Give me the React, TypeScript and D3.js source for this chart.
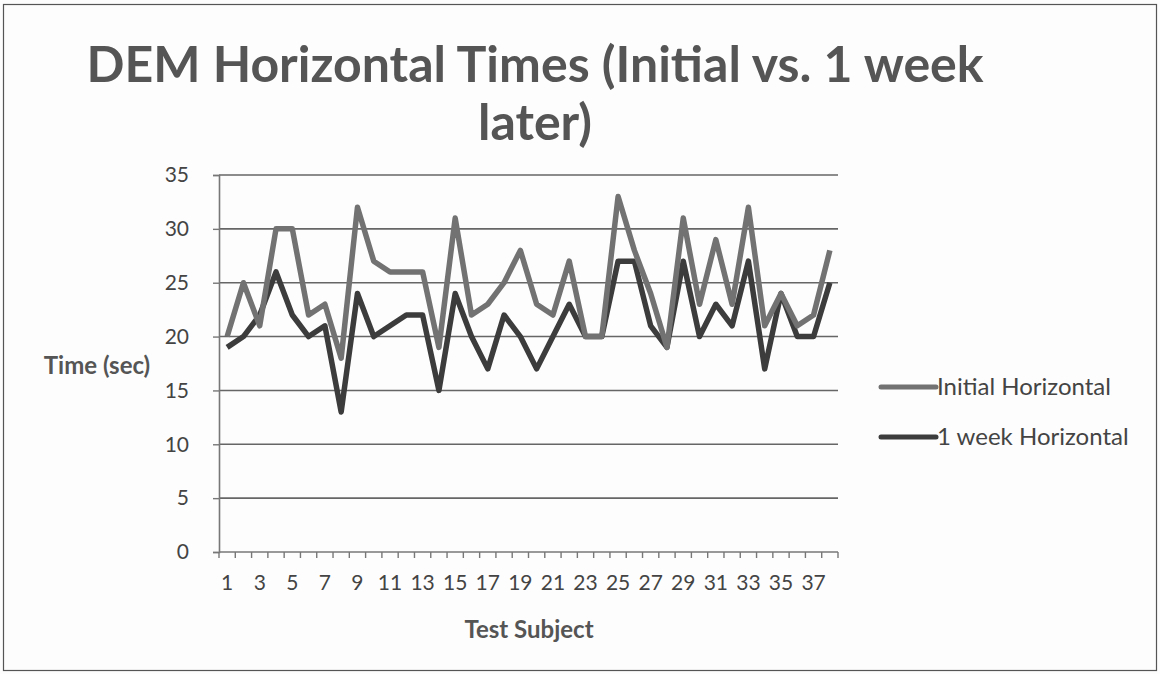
import React, { useEffect, useRef } from 'react';
import * as d3 from 'd3';

// test subjects 1..38
const subjects = d3.range(1, 39);
const initialHorizontal = [20, 25, 21, 30, 30, 22, 23, 18, 32, 27, 26, 26, 26, 19, 31, 22, 23, 25, 28, 23, 22, 27, 20, 20, 33, 28, 24, 19, 31, 23, 29, 23, 32, 21, 24, 21, 22, 28];
const weekHorizontal = [19, 20, 22, 26, 22, 20, 21, 13, 24, 20, 21, 22, 22, 15, 24, 20, 17, 22, 20, 17, 20, 23, 20, 20, 27, 27, 21, 19, 27, 20, 23, 21, 27, 17, 24, 20, 20, 25];
const yTicks = [0, 5, 10, 15, 20, 25, 30, 35];
const seriesNames = ['Initial Horizontal', '1 week Horizontal'];

const FONT = 'Lato, "Open Sans", sans-serif';

export default function App() {
  const ref = useRef<SVGSVGElement>(null);

  useEffect(() => {
    const svg = d3.select(ref.current);
    svg.selectAll('*').remove();

    const width = 1160;
    const height = 674;
    const margin = { top: 175, left: 219, right: 322, bottom: 122 };
    const graphWidth = width - margin.left - margin.right;
    const graphHeight = height - margin.top - margin.bottom;

    // frame
    svg.append('rect').attr('width', width).attr('height', height).attr('fill', '#fdfdfd');
    svg
      .append('rect')
      .attr('x', 3.5)
      .attr('y', 4.5)
      .attr('width', width - 7)
      .attr('height', height - 8)
      .attr('fill', 'none')
      .attr('stroke', '#555')
      .attr('stroke-width', 1.2);

    // title
    const title = svg
      .append('text')
      .attr('text-anchor', 'middle')
      .attr('font-family', FONT)
      .attr('font-weight', 'bold')
      .attr('font-size', 50)
      .attr('fill', '#555');
    title.append('tspan').attr('x', 535).attr('y', 82).text('DEM Horizontal Times (Initial vs. 1 week');
    title.append('tspan').attr('x', 535).attr('y', 140).text('later)');

    const graph = svg.append('g').attr('transform', `translate(${margin.left}, ${margin.top})`);

    const x = d3.scaleBand<number>().domain(subjects).range([0, graphWidth]);
    const y = d3.scaleLinear().domain([0, 35]).range([graphHeight, 0]);

    // gridlines
    graph
      .append('g')
      .selectAll('line')
      .data(yTicks.filter(t => t > 0))
      .enter()
      .append('line')
      .attr('x1', 0)
      .attr('x2', graphWidth)
      .attr('y1', d => y(d))
      .attr('y2', d => y(d))
      .attr('stroke', '#666')
      .attr('stroke-width', 1.6);

    // y axis
    const yAxis = graph
      .append('g')
      .call(d3.axisLeft(y).tickValues(yTicks).tickSize(6).tickPadding(24));
    yAxis.select('.domain').attr('stroke', '#777').attr('stroke-width', 1.6);
    yAxis.selectAll('.tick line').attr('stroke', '#777').attr('stroke-width', 1.4);
    yAxis
      .selectAll('.tick text')
      .attr('font-family', FONT)
      .attr('font-size', 21)
      .attr('fill', '#444');

    // x axis (ticks at category boundaries)
    const xAxisGroup = graph.append('g').attr('transform', `translate(0, ${graphHeight})`);
    xAxisGroup
      .append('line')
      .attr('x1', 0)
      .attr('x2', graphWidth)
      .attr('stroke', '#777')
      .attr('stroke-width', 1.6);
    xAxisGroup
      .selectAll('line.tk')
      .data(d3.range(0, subjects.length + 1))
      .enter()
      .append('line')
      .attr('class', 'tk')
      .attr('x1', i => i * x.step())
      .attr('x2', i => i * x.step())
      .attr('y1', 0)
      .attr('y2', 6)
      .attr('stroke', '#777')
      .attr('stroke-width', 1.4);
    xAxisGroup
      .selectAll('text')
      .data(subjects.filter(s => s % 2 === 1))
      .enter()
      .append('text')
      .attr('x', d => x(d)! + x.bandwidth() / 2)
      .attr('y', 38)
      .attr('text-anchor', 'middle')
      .attr('font-family', FONT)
      .attr('font-size', 21)
      .attr('fill', '#444')
      .text(d => d);

    // axis titles
    svg
      .append('text')
      .attr('x', 529)
      .attr('y', 638)
      .attr('text-anchor', 'middle')
      .attr('font-family', FONT)
      .attr('font-weight', 'bold')
      .attr('font-size', 24)
      .attr('fill', '#555')
      .text('Test Subject');
    svg
      .append('text')
      .attr('x', 97)
      .attr('y', 374)
      .attr('text-anchor', 'middle')
      .attr('font-family', FONT)
      .attr('font-weight', 'bold')
      .attr('font-size', 24)
      .attr('fill', '#555')
      .text('Time (sec)');

    // lines
    const line = d3
      .line<number>()
      .x((d, i) => x(subjects[i])! + x.bandwidth() / 2)
      .y(d => y(d));

    const series = [
      { name: seriesNames[0], values: initialHorizontal, color: '#727272' },
      { name: seriesNames[1], values: weekHorizontal, color: '#3c3c3c' },
    ];

    // draw the initial series on top, like the reference
    [series[1], series[0]].forEach(s => {
      graph
        .append('path')
        .attr('d', line(s.values))
        .attr('fill', 'none')
        .attr('stroke', s.color)
        .attr('stroke-width', 5.5)
        .attr('stroke-linejoin', 'round');
    });

    // legend
    const legend = svg.append('g').attr('transform', 'translate(881, 387)');
    series.forEach((s, i) => {
      const row = legend.append('g').attr('transform', `translate(0, ${i * 50})`);
      row
        .append('line')
        .attr('x1', 0)
        .attr('x2', 55)
        .attr('stroke', s.color)
        .attr('stroke-width', 5)
        .attr('stroke-linecap', 'round');
      row
        .append('text')
        .attr('x', 56)
        .attr('y', 8)
        .attr('font-family', FONT)
        .attr('font-size', 24)
        .attr('fill', '#444')
        .text(s.name);
    });
  }, []);

  return (
    <div style={{ position: 'absolute', left: 0, top: 0 }}>
      <svg ref={ref} width={1160} height={674} style={{ display: 'block' }} />
    </div>
  );
}
